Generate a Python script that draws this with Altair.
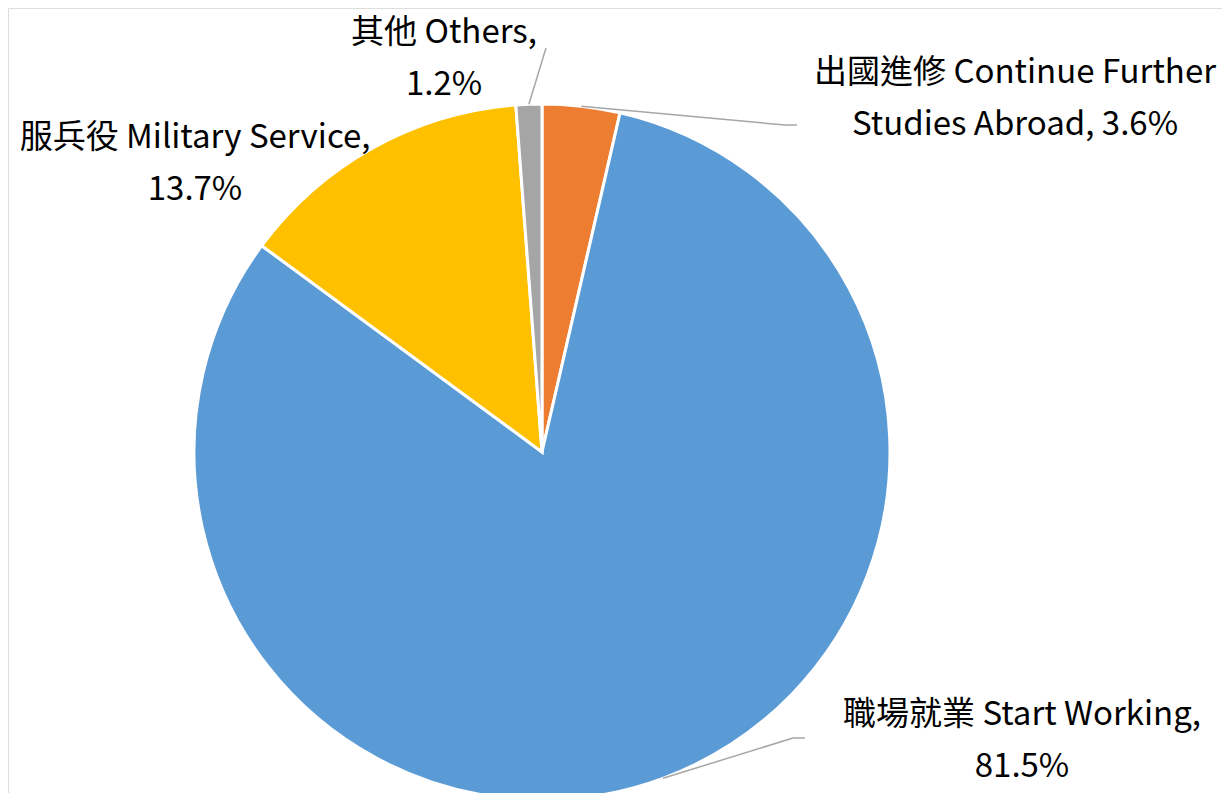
import math
import altair as alt
import pandas as pd

categories = ["出國進修 Continue Further Studies Abroad", "職場就業 Start Working",
              "服兵役 Military Service", "其他 Others"]
values = [3.6, 81.5, 13.7, 1.2]
label_texts = ["出國進修 Continue Further\nStudies Abroad, 3.6%",
               "職場就業 Start Working,\n81.5%",
               "服兵役 Military Service,\n13.7%",
               "其他 Others,\n1.2%"]
colors = ["#ED7D31", "#5B9BD5", "#FFC000", "#A5A5A5"]

# layout (chart pixel coordinates)
CX, CY, R = 534, 444, 348
label_pos = [(1007, 75), (1014, 717), (187, 140), (436, 35)]
leader_elbow = [(777, 117), (785, 730), None, (538, 40)]
leader_end = [(789, 117), (797, 730), None, (538, 40)]
FONT = "Noto Sans CJK TC"

df = pd.DataFrame({"cat": categories, "val": values, "order": range(len(values))})

pie = alt.Chart(df).mark_arc(radius=R, stroke="white", strokeWidth=3).encode(
    theta=alt.Theta("val:Q", stack=True),
    color=alt.Color("cat:N", scale=alt.Scale(domain=categories, range=colors), legend=None),
    order=alt.Order("order:Q"),
    x=alt.value(CX), y=alt.value(CY),
)

# leader lines from slice mid-angles
segs = []
total = sum(values)
cum = 0
for i, v in enumerate(values):
    mid = (cum + v / 2) / total * 2 * math.pi
    cum += v
    if leader_elbow[i] is None:
        continue
    sx = CX + R * math.sin(mid)
    sy = CY - R * math.cos(mid)
    ex, ey = leader_elbow[i]
    segs.append({"x": sx, "y": sy, "x2": ex, "y2": ey})
    fx, fy = leader_end[i]
    if (fx, fy) != (ex, ey):
        segs.append({"x": ex, "y": ey, "x2": fx, "y2": fy})
seg_df = pd.DataFrame(segs)
leaders = alt.Chart(seg_df).mark_rule(color="#A6A6A6", strokeWidth=1.5).encode(
    x=alt.X("x:Q", scale=None), y=alt.Y("y:Q", scale=None),
    x2="x2:Q", y2="y2:Q",
)

lab_df = pd.DataFrame({"text": label_texts,
                       "x": [p[0] for p in label_pos],
                       "y": [p[1] for p in label_pos]})
labels = alt.Chart(lab_df).mark_text(
    font=FONT, fontSize=33, color="#000000", align="center",
    baseline="alphabetic", lineBreak="\n", lineHeight=52,
).encode(
    x=alt.X("x:Q", scale=None), y=alt.Y("y:Q", scale=None), text="text:N"
)

chart = alt.layer(pie, leaders, labels).properties(
    width=1214, height=785, autosize=alt.AutoSizeParams(type="none"), padding=0,
).configure_view(stroke=None).configure(background="white")

chart.save("out.html", embed_options={"renderer": "svg", "actions": False})
